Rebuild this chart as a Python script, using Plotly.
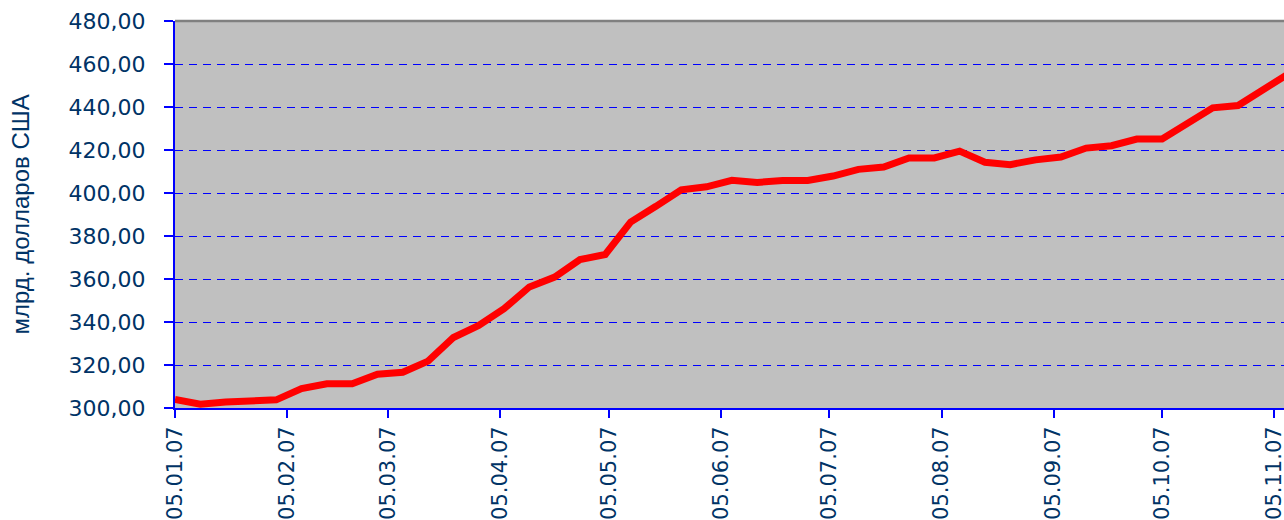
import pandas as pd
import plotly.graph_objects as go

# Weekly values (billion USD), Fridays from 05.01.2007
values = [304.0, 301.8, 302.8, 303.7, 303.8, 309.0, 311.3, 311.3, 315.7, 316.6,
          321.8, 332.8, 338.4, 346.2, 356.3, 360.9, 369.0, 371.4, 386.5, 393.8,
          401.5, 402.9, 405.9, 404.9, 405.8, 405.8, 407.9, 411.0, 412.1, 416.3,
          416.3, 419.5, 414.3, 413.2, 415.4, 416.7, 420.9, 422.0, 425.1, 425.1,
          432.7, 439.6, 440.7, 448.5, 455.5]
dates = pd.date_range("2007-01-05", periods=len(values), freq="7D")

tick_dates = ["2007-01-05", "2007-02-05", "2007-03-05", "2007-04-05", "2007-05-05",
              "2007-06-05", "2007-07-05", "2007-08-05", "2007-09-05", "2007-10-05",
              "2007-11-05"]
tick_labels = ["05.01.07", "05.02.07", "05.03.07", "05.04.07", "05.05.07",
               "05.06.07", "05.07.07", "05.08.07", "05.09.07", "05.10.07",
               "05.11.07"]
y_title = "млрд. долларов США"

TXT = "#003366"
BLUE = "#0000FF"

fig = go.Figure()
fig.add_trace(go.Scatter(x=dates, y=values, mode="lines",
                         line=dict(color="#FF0000", width=7), hoverinfo="skip",
                         showlegend=False))

fig.update_layout(
    width=1284, height=520,
    margin=dict(l=175, r=0, t=21, b=112),
    paper_bgcolor="white", plot_bgcolor="#C0C0C0",
    separators=", ",
    font=dict(family="DejaVu Sans", color=TXT, size=20),
    xaxis=dict(
        type="date",
        range=["2007-01-05", "2007-11-07 17:00"],
        tickvals=tick_dates, ticktext=tick_labels,
        tickangle=-90,
        showgrid=False, zeroline=False,
        showline=True, linecolor=BLUE, linewidth=2,
        ticks="outside", ticklen=8, tickcolor=BLUE, tickwidth=1.5,
        tickfont=dict(family="DejaVu Sans", size=21, color=TXT),
        ticklabeloverflow="allow",
        automargin=False,
    ),
    yaxis=dict(
        range=[300, 480], dtick=20, tick0=300,
        tickformat=".2f",
        showgrid=True, gridcolor=BLUE, gridwidth=1, griddash="8px,6px",
        zeroline=False,
        showline=True, linecolor=BLUE, linewidth=2,
        ticks="outside", ticklen=9, tickcolor=BLUE, tickwidth=1.5,
        tickfont=dict(family="DejaVu Sans", size=22, color=TXT),
        ticklabelstandoff=14,
        automargin=False,
    ),
    shapes=[dict(type="line", xref="x domain", yref="y domain",
                 x0=0, x1=1, y0=1, y1=1,
                 line=dict(color="#808080", width=2.5))],
    annotations=[dict(text=y_title, xref="paper", yref="paper",
                      x=-(175 - 20) / 1109, y=0.5, xanchor="center", yanchor="middle",
                      textangle=-90, showarrow=False,
                      font=dict(family="Liberation Sans", size=24, color=TXT))],
)

fig.write_html("out.html",
               config={"displayModeBar": False},
               post_script="document.body.style.margin='0';document.body.style.overflow='hidden';")
